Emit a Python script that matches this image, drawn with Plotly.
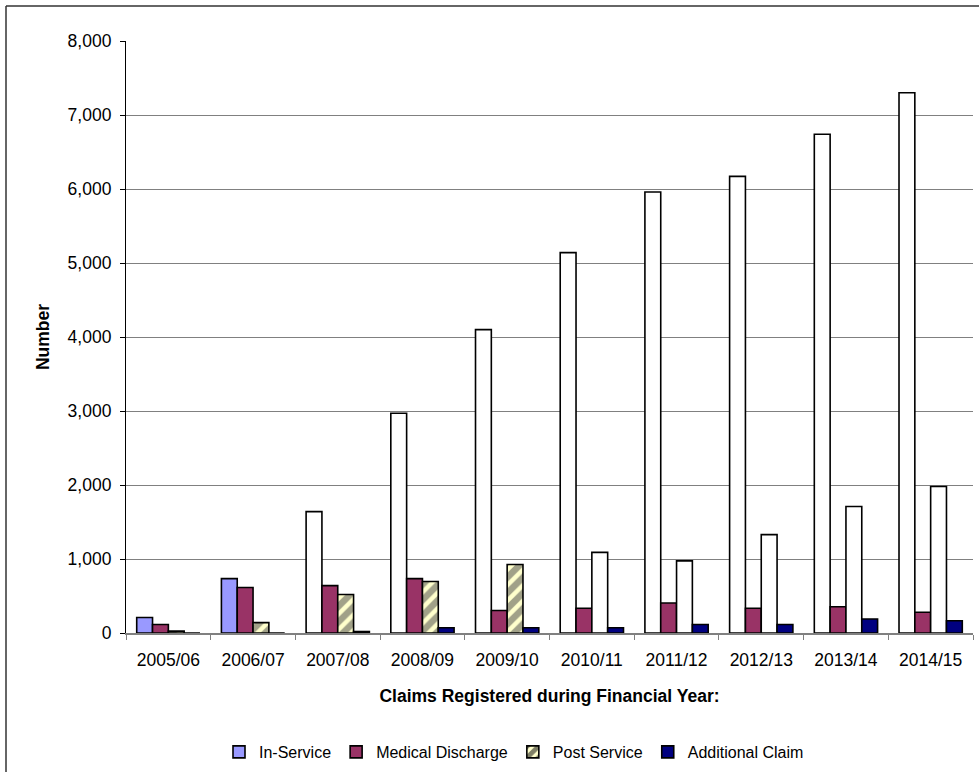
import plotly.graph_objects as go

# Claims registered per financial year, by claim type
years = ["2005/06", "2006/07", "2007/08", "2008/09", "2009/10",
         "2010/11", "2011/12", "2012/13", "2013/14", "2014/15"]
in_service = [210, 735, 1640, 2970, 4100, 5140, 5960, 6170, 6740, 7300]
medical_discharge = [115, 615, 640, 735, 305, 335, 405, 335, 355, 280]
post_service = [25, 140, 520, 695, 925, 1090, 975, 1330, 1710, 1980]
additional_claim = [0, 0, 20, 70, 70, 70, 115, 115, 190, 165]

series_names = ["In-Service", "Medical Discharge", "Post Service", "Additional Claim"]

# years from which a series is shown with a blank (white) fill
in_service_blank_from = 2
post_service_blank_from = 5

FONT = "Liberation Sans, Arial, sans-serif"
FS = 17.5
OUTLINE = dict(color="black", width=1.6)

in_service_colors = ["#9999FF" if i < in_service_blank_from else "white"
                     for i in range(len(years))]
post_colors = ["#FFFFCC" if i < post_service_blank_from else "white"
               for i in range(len(years))]
post_shapes = ["/" if i < post_service_blank_from else ""
               for i in range(len(years))]

fig = go.Figure()
fig.add_bar(x=years, y=in_service, name=series_names[0],
            marker=dict(color=in_service_colors, line=OUTLINE))
fig.add_bar(x=years, y=medical_discharge, name=series_names[1],
            marker=dict(color="#993366", line=OUTLINE))
fig.add_bar(x=years, y=post_service, name=series_names[2],
            marker=dict(color=post_colors, line=OUTLINE,
                        pattern=dict(shape=post_shapes, fgcolor="black",
                                     bgcolor=post_colors, fillmode="overlay",
                                     size=11, solidity=0.6)))
fig.add_bar(x=years, y=additional_claim, name=series_names[3],
            marker=dict(color="#000080", line=OUTLINE))

# plot area in pixels: left 126, right 973, top 41, bottom 633
W, H = 979, 772
L, R, T, B = 126, 973, 41, 633
pw, ph = R - L, B - T


def px(xp):
    return (xp - L) / pw


def py(yp):
    return (B - yp) / ph


frame = dict(color="#333333", width=1.5)

fig.update_layout(
    width=W, height=H,
    margin=dict(l=L, r=W - R, t=T, b=H - B, autoexpand=False),
    paper_bgcolor="white", plot_bgcolor="white",
    barmode="group", bargap=0.253, bargroupgap=0,
    font=dict(family=FONT, size=FS, color="black"),
    showlegend=True,
    legend=dict(orientation="h", x=px(514), xanchor="center",
                y=py(752), yanchor="middle",
                font=dict(family=FONT, size=16, color="black"),
                itemwidth=30, tracegroupgap=0, bgcolor="rgba(0,0,0,0)"),
    # chart frame: left and top edges
    shapes=[
        dict(type="line", xref="paper", yref="paper",
             x0=px(6), x1=px(6), y0=py(H + 10), y1=py(6), line=frame, layer="below"),
        dict(type="line", xref="paper", yref="paper",
             x0=px(6), x1=px(W + 10), y0=py(6), y1=py(6), line=frame, layer="below"),
    ],
)

fig.update_xaxes(
    type="category",
    showline=True, linecolor="#808080", linewidth=1.5,
    ticks="outside", tickson="boundaries", ticklen=5, tickcolor="#808080",
    ticklabelstandoff=10,
    tickfont=dict(family=FONT, size=FS, color="black"),
    showgrid=False,
    title=dict(text="<b>Claims Registered during Financial Year:</b>",
               font=dict(family=FONT, size=FS, color="black"), standoff=21),
    automargin=False,
)

fig.update_yaxes(
    range=[0, 8000], dtick=1000, tickformat=",",
    showline=True, linecolor="black", linewidth=1.2,
    ticks="outside", ticklen=5, tickcolor="black",
    ticklabelstandoff=5,
    showgrid=True, gridcolor="#808080", gridwidth=1.4,
    zeroline=False,
    tickfont=dict(family=FONT, size=FS, color="black"),
    title=dict(text="<b>Number</b>",
               font=dict(family=FONT, size=FS, color="black"), standoff=13),
    automargin=False,
)

fig.write_html("out.html")
